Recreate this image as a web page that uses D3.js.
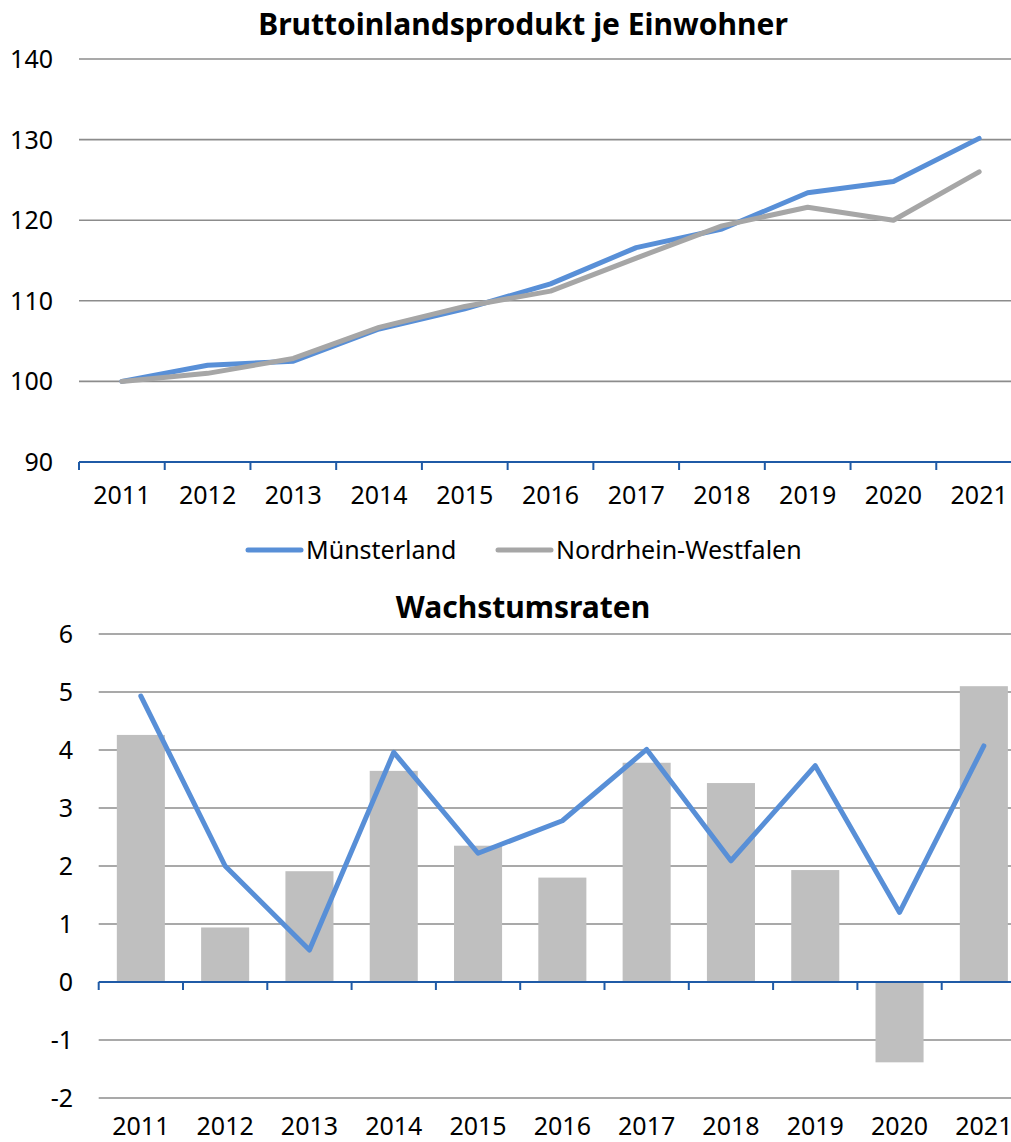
<!DOCTYPE html>
<html><head><meta charset="utf-8">
<script src="https://cdn.jsdelivr.net/npm/d3@7"></script>
<style>
body{margin:0;background:#fff;}
text{font-family:"Noto Sans","Open Sans",sans-serif;fill:#000;}
</style></head>
<body>
<svg id="c" width="1011" height="1142"></svg>
<script>
const years = ["2011","2012","2013","2014","2015","2016","2017","2018","2019","2020","2021"];
const muensterlandIndex = [100, 102.0, 102.5, 106.5, 109.0, 112.1, 116.6, 118.9, 123.4, 124.8, 130.15];
const nrwIndex = [100, 101.0, 102.85, 106.7, 109.3, 111.2, 115.3, 119.3, 121.6, 120.0, 126.0];
const nrwGrowth = [4.26, 0.94, 1.91, 3.64, 2.35, 1.80, 3.78, 3.43, 1.93, -1.385, 5.10];
const muensterlandGrowth = [4.93, 2.0, 0.55, 3.96, 2.22, 2.78, 4.01, 2.09, 3.73, 1.20, 4.07];
const topTicks = [90, 100, 110, 120, 130, 140];
const bottomTicks = [-2, -1, 0, 1, 2, 3, 4, 5, 6];

const svg = d3.select("#c");
const blue = "#588fd7", gray = "#a6a6a6", barGray = "#bfbfbf", gridC = "#8c8c8c", axisC = "#1f5aa6";
const FS = 25, TFS = 30;

// ---------- top chart ----------
const x1 = d3.scaleBand().domain(years).range([79, 1022]);
const y1 = d3.scaleLinear().domain([90, 140]).range([462, 59]);
const g1 = svg.append("g");
g1.selectAll("line.grid").data(topTicks.filter(d => d !== 90)).join("line")
  .attr("x1", 79).attr("x2", 1011).attr("y1", d => y1(d)).attr("y2", d => y1(d))
  .attr("stroke", gridC).attr("stroke-width", 1.6);
g1.selectAll("text.yt").data(topTicks).join("text")
  .attr("x", 53).attr("y", d => y1(d) + 9).attr("text-anchor", "end")
  .attr("font-size", FS).text(d => d);
const ax1 = g1.append("g").attr("transform", `translate(0,${y1(90)})`);
ax1.append("line").attr("x1", 79).attr("x2", 1011).attr("y1", 0).attr("y2", 0)
  .attr("stroke", axisC).attr("stroke-width", 2);
years.forEach(yr => {
  const xx = x1(yr);
  ax1.append("line").attr("x1", xx).attr("x2", xx).attr("y1", 0).attr("y2", 8)
    .attr("stroke", axisC).attr("stroke-width", 2);
});
g1.selectAll("text.xt").data(years).join("text")
  .attr("x", d => x1(d) + x1.bandwidth() / 2).attr("y", 504).attr("text-anchor", "middle")
  .attr("font-size", FS).text(d => d);
const line1 = d3.line().x((d, i) => x1(years[i]) + x1.bandwidth() / 2).y(d => y1(d));
g1.append("path").datum(muensterlandIndex).attr("d", line1).attr("fill", "none")
  .attr("stroke", blue).attr("stroke-width", 5).attr("stroke-linejoin", "round").attr("stroke-linecap", "round");
g1.append("path").datum(nrwIndex).attr("d", line1).attr("fill", "none")
  .attr("stroke", gray).attr("stroke-width", 5).attr("stroke-linejoin", "round").attr("stroke-linecap", "round");
g1.append("text").attr("x", 523).attr("y", 35).attr("text-anchor", "middle")
  .attr("font-size", TFS).attr("font-weight", "bold").text("Bruttoinlandsprodukt je Einwohner");

// legend
const legend = [{name: "Münsterland", c: blue, x: 248}, {name: "Nordrhein-Westfalen", c: gray, x: 498}];
legend.forEach(l => {
  svg.append("line").attr("x1", l.x).attr("x2", l.x + 53).attr("y1", 550).attr("y2", 550)
    .attr("stroke", l.c).attr("stroke-width", 5).attr("stroke-linecap", "round");
  svg.append("text").attr("x", l.x + 58).attr("y", 559).attr("font-size", FS).text(l.name);
});

// ---------- bottom chart ----------
const x2 = d3.scaleBand().domain(years).range([98.7, 1026]).paddingInner(0.43).paddingOuter(0.215);
const x2b = d3.scaleBand().domain(years).range([98.7, 1026]);
const y2 = d3.scaleLinear().domain([-2, 6]).range([1098, 634]);
const g2 = svg.append("g");
g2.selectAll("line.grid").data(bottomTicks.filter(d => d !== 0)).join("line")
  .attr("x1", 98.7).attr("x2", 1011).attr("y1", d => y2(d)).attr("y2", d => y2(d))
  .attr("stroke", gridC).attr("stroke-width", 1.6);
g2.selectAll("text.yt").data(bottomTicks).join("text")
  .attr("x", 73).attr("y", d => y2(d) + 9).attr("text-anchor", "end")
  .attr("font-size", FS).text(d => d);
g2.selectAll("rect.bar").data(nrwGrowth).join("rect")
  .attr("x", (d, i) => x2(years[i])).attr("width", x2.bandwidth())
  .attr("y", d => y2(Math.max(0, d))).attr("height", d => Math.abs(y2(d) - y2(0)))
  .attr("fill", barGray);
const ax2 = g2.append("g").attr("transform", `translate(0,${y2(0)})`);
ax2.append("line").attr("x1", 98.7).attr("x2", 1011).attr("y1", 0).attr("y2", 0)
  .attr("stroke", axisC).attr("stroke-width", 2);
years.forEach(yr => {
  const xx = x2b(yr);
  ax2.append("line").attr("x1", xx).attr("x2", xx).attr("y1", 0).attr("y2", 8)
    .attr("stroke", axisC).attr("stroke-width", 2);
});
g2.selectAll("text.xt").data(years).join("text")
  .attr("x", d => x2b(d) + x2b.bandwidth() / 2).attr("y", 1135).attr("text-anchor", "middle")
  .attr("font-size", FS).text(d => d);
const line2 = d3.line().x((d, i) => x2b(years[i]) + x2b.bandwidth() / 2).y(d => y2(d));
g2.append("path").datum(muensterlandGrowth).attr("d", line2).attr("fill", "none")
  .attr("stroke", blue).attr("stroke-width", 5).attr("stroke-linejoin", "round").attr("stroke-linecap", "round");
g2.append("text").attr("x", 523).attr("y", 618).attr("text-anchor", "middle")
  .attr("font-size", TFS).attr("font-weight", "bold").text("Wachstumsraten");
</script>
</body></html>
